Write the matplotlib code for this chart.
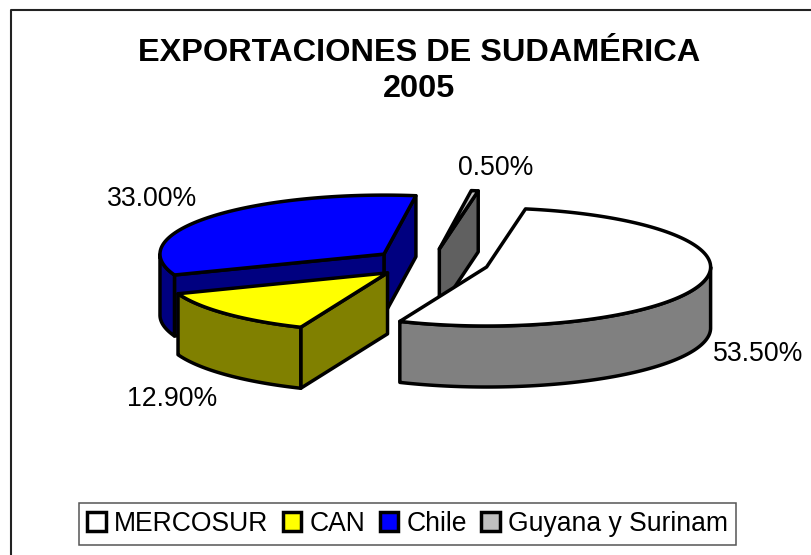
import numpy as np
import matplotlib
matplotlib.use("Agg")
import matplotlib.pyplot as plt
from matplotlib.patches import Polygon, Rectangle
from matplotlib.lines import Line2D

plt.rcParams['font.family'] = ['Liberation Sans', 'DejaVu Sans']

categories = ["MERCOSUR", "CAN", "Chile", "Guyana y Surinam"]
values = [53.5, 12.9, 33.0, 0.5]
value_labels = ["53.50%", "12.90%", "33.00%", "0.50%"]
title_lines = "EXPORTACIONES DE SUDAMÉRICA\n2005"

top_colors = ["#FFFFFF", "#FFFF00", "#0000FF", "#C0C0C0"]
side_colors = ["#808080", "#808000", "#000080", "#606060"]

# projection of the exploded 3-D pie, in pixels
CX, CY = 430.0, 263.0
RX, RY = 224.0, 59.0
DEPTH = 61.0
EXPLODE = (59.0 / RX, 14.2 / RY)
START = 10.0
LW = 2.5
label_pos = [(758, 354), (172, 399), (152, 199), (496, 168)]

fig = plt.figure(figsize=(8.12, 5.55), dpi=100, facecolor="white")
ax = fig.add_axes([0, 0, 1, 1])
ax.set_xlim(0, 812)
ax.set_ylim(555, 0)
ax.axis("off")

# chart frame (runs off the picture on the right and at the bottom)
ax.add_line(Line2D([812, 11, 11], [9.5, 9.5, 555], color="#222222", lw=1.5))

fr = np.array(values) / sum(values)
a0 = START + 360 * np.concatenate([[0], np.cumsum(fr)[:-1]])
a1 = a0 + 360 * fr


def pt(ax0, ay0, a):
    r = np.radians(a)
    return np.column_stack([ax0 + RX * np.sin(r), ay0 - RY * np.cos(r)])


def poly(xy, fc):
    ax.add_patch(Polygon(xy, closed=True, fc=fc, ec="black", lw=LW, joinstyle="round"))


slices = []
for i in range(len(values)):
    mid = np.radians((a0[i] + a1[i]) / 2)
    ox = CX + EXPLODE[0] * RX * np.sin(mid)
    oy = CY - EXPLODE[1] * RY * np.cos(mid)
    slices.append((i, ox, oy))

# painter's order: back slices first
for i, ox, oy in [slices[2], slices[1], slices[3], slices[0]]:
    apex = np.array([[ox, oy]])
    d = np.array([[0, DEPTH]])
    arc = pt(ox, oy, np.linspace(a0[i], a1[i], 200))
    # radial walls whose outward normal points towards the viewer
    for a, sign in ((a1[i], 1), (a0[i], -1)):
        if np.cos(np.radians(a + sign * 90)) < 0:
            e = pt(ox, oy, np.array([a]))
            poly(np.vstack([apex, e, e + d, apex + d]), side_colors[i])
    # outer wall: the part of the rim on the viewer's side
    lo = max(a0[i], 90)
    hi = min(a1[i], 270)
    if hi > lo:
        rim = pt(ox, oy, np.linspace(lo, hi, 200))
        poly(np.vstack([rim, (rim + d)[::-1]]), side_colors[i])
    poly(np.vstack([apex, arc]), top_colors[i])

for s, (x, y) in zip(value_labels, label_pos):
    ax.text(x, y, s, fontsize=19.2, ha="center", va="center", color="black")

ax.text(419, 71, title_lines, fontsize=23.4, fontweight="bold", ha="center",
        va="center", linespacing=1.27, color="black")

handles = [Rectangle((0, 0), 1, 1, fc=c, ec="black", lw=LW) for c in top_colors]
leg = ax.legend(handles, categories, loc="center", ncol=4,
                bbox_to_anchor=(407.5, 524), bbox_transform=ax.transData,
                fontsize=19.1, frameon=True, fancybox=False, framealpha=1,
                edgecolor="#555555", handlelength=0.7, handleheight=0.7,
                handletextpad=0.3, columnspacing=0.55, borderpad=0.3,
                borderaxespad=0)
leg.get_frame().set_linewidth(1.1)

fig.savefig("out.png", dpi=100, facecolor="white")
